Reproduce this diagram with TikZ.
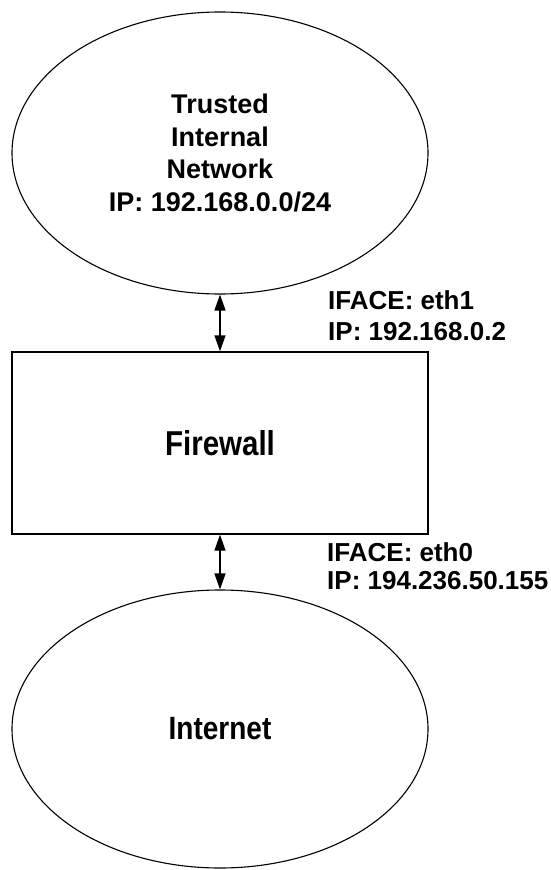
\documentclass[tikz,border=0pt]{standalone}
\usepackage{fontspec}
\usepackage{graphicx}
\setmainfont{Liberation Sans}
\usetikzlibrary{shapes.geometric,arrows.meta}
\begin{document}
\begin{tikzpicture}[x=1pt,y=-1pt,
  net/.style={draw, ellipse, line width=1.1pt, inner sep=0pt, minimum width=416pt, align=center},
  box/.style={draw, rectangle, line width=1.3pt, inner sep=0pt, minimum width=416pt, minimum height=182pt},
  link/.style={line width=1.3pt, {Triangle[length=16pt,width=11pt]}-{Triangle[length=16pt,width=11pt]}},
  lbl/.style={anchor=north west, inner sep=0pt, align=left}]
\useasboundingbox (0,0) rectangle (551,870);
\node[net, minimum height=282pt, font=\bfseries\fontsize{27}{32.7}\selectfont] (trusted) at (220,153)
  {Trusted\\Internal\\Network\\IP: 192.168.0.0/24};
\node[box] (fw) at (220,443) {\scalebox{1}[1.17]{\bfseries\fontsize{29.5}{35}\selectfont Firewall}};
\node[net, minimum height=278pt] (inet) at (220,729) {\scalebox{1}[1.15]{\bfseries\fontsize{28}{34}\selectfont Internet}};
\draw[link] (trusted.south) -- (fw.north);
\draw[link] (fw.south) -- (inet.north);
\node[lbl, font=\bfseries\fontsize{26}{31}\selectfont] (l1) at (328,290) {IFACE: eth1\\IP: 192.168.0.2};
\node[lbl, font=\bfseries\fontsize{26}{28}\selectfont] (l0) at (327,542) {IFACE: eth0\\IP: 194.236.50.155};
\end{tikzpicture}
\end{document}
